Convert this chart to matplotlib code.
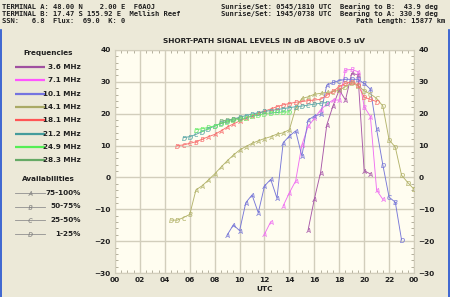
import numpy as np
import matplotlib
matplotlib.use("Agg")
import matplotlib.pyplot as plt

nan = np.nan

# ---- data (UTC hour, dB above 0.5 uV, availability letter per point) ----
f36_utc = [15.5, 16.0, 16.5, 17.0, 17.5, 18.0, 18.5, 19.0, 19.5, 20.0, 20.5]
f36_db = [-16.5, -6.8, 1.5, 16.5, 22.5, 27.5, 24.3, 32.7, 32.2, 2.1, 1.1]
f36_av = "AAAAAAAAAAA"

f71_utc = [12.0, 12.5, 13.0, 13.5, 14.0, 14.5, 15.0, 15.5, 16.0, 16.5, 17.0,
           17.5, 18.0, 18.5, 19.0, 19.5, 20.0, 20.5, 21.0, 21.5]
f71_db = [-17.8, -13.9, nan, -8.9, -4.8, -1.1, 10.2, 16.0, 18.5, 21.2, 23.0,
          24.3, 24.3, 33.7, 33.9, 33.2, 22.2, 19.1, -4.0, -6.9]
f71_av = "AA AAAAAAAAAABBABAAA"

f101_utc = [9.0, 9.5, 10.0, 10.5, 11.0, 11.5, 12.0, 12.5, 13.0, 13.5, 14.0,
            14.5, 15.0, 15.5, 16.0, 16.5, 17.0, 17.5, 18.0, 18.5, 19.0, 19.5,
            20.0, 20.5, 21.0, 21.5, 22.0, 22.5, 23.0]
f101_db = [-18.1, -14.9, -16.7, -7.9, -5.5, -11.1, -2.7, -0.6, -6.5, 10.9, 13.0,
           14.6, 6.7, 18.0, 19.3, 19.8, 29.0, 29.8, 30.4, 30.8, 30.8, 30.8,
           29.5, 27.7, 15.1, 3.9, -6.2, -7.8, -19.6]
f101_av = "AAAAAAAAAAAAAAAAA" + "BCDDDBAADCBD"

f141_utc = [4.5, 5.0, 5.5, 6.0, 6.5, 7.0, 7.5, 8.0, 8.5, 9.0, 9.5, 10.0, 10.5,
            11.0, 11.5, 12.0, 12.5, 13.0, 13.5, 14.0, 14.5, 15.0, 15.5, 16.0,
            16.5, 17.0, 17.5, 18.0, 18.5, 19.0, 19.5, 20.0, 20.5, 21.0, 21.5,
            22.0, 22.5, 23.0, 23.5, 24.0]
f141_db = [-13.4, -13.4, -12.6, -11.6, -3.9, -2.6, -0.8, 1.1, 3.2, 5.2, 7.0,
           8.6, 9.7, 10.7, 11.5, 12.2, 12.8, 13.6, 14.0, 15.0, 21.7, 24.8, 25.3,
           26.1, 26.4, 26.7, 26.9, 27.4, 28.5, 29.5, 28.8, 27.2, 26.2, 24.8,
           22.4, 11.8, 9.5, 0.7, -1.6, -3.7]
f141_av = "DDCB" + "AAAAAAAAAAAAAAAAAAAAAA" + "CDDDDD" + "CC" + "DDDDDD"

f181_utc = [5.0, 5.5, 6.0, 6.5, 7.0, 7.5, 8.0, 8.5, 9.0, 9.5, 10.0, 10.5, 11.0,
            11.5, 12.0, 12.5, 13.0, 13.5, 14.0, 14.5, 15.0, 15.5, 16.0, 16.5,
            17.0, 17.5, 18.0, 18.5, 19.0, 19.5, 20.0, 20.5, 21.0]
f181_db = [10.0, 10.2, 10.7, 11.2, 12.0, 12.8, 13.5, 14.6, 15.8, 16.8, 17.7,
           18.6, 19.4, 20.1, 20.8, 21.5, 22.2, 22.8, 23.2, 23.6, 23.8, 24.1,
           24.3, 24.5, 25.8, 27.0, 28.5, 29.5, 30.0, 29.0, 25.2, 24.5, 23.8]
f181_av = "DCCBB" + "AAAAAAAAAAA" + "DDDDCDCCD" + "DDDDDDDD"

f212_utc = [5.5, 6.0, 6.5, 7.0, 7.5, 8.0, 8.5, 9.0, 9.5, 10.0, 10.5, 11.0,
            11.5, 12.0, 12.5, 13.0, 13.5, 14.0, 14.5, 15.0, 15.5, 16.0, 16.5,
            17.0]
f212_db = [12.5, 12.8, 13.5, 14.4, 15.3, 16.1, 17.0, 17.7, 18.3, 18.9, 19.4,
           19.9, 20.3, 20.7, 21.0, 21.3, 21.6, 21.9, 22.2, 22.4, 22.7, 23.0,
           23.3, 23.5]
f212_av = "DDCD" + "DDDDDDDDDDDDDDDD" + "CDCD"

f249_utc = [6.5, 7.0, 7.5, 8.0, 8.5, 9.0, 9.5, 10.0, 10.5, 11.0, 11.5, 12.0,
            12.5, 13.0, 13.5, 14.0]
f249_db = [15.0, 15.3, 15.7, 16.2, 16.9, 17.5, 17.9, 18.3, 18.7, 19.2, 19.6,
           20.0, 20.3, 20.4, 20.5, 20.6]
f249_av = "DDDDDDDDDDDDDDDD"

f283_utc = [8.5, 9.0, 9.5, 10.0]
f283_db = [17.7, 18.0, 18.3, 18.6]
f283_av = "DDDD"

freq_labels = ["3.6 MHz", "7.1 MHz", "10.1 MHz", "14.1 MHz",
               "18.1 MHz", "21.2 MHz", "24.9 MHz", "28.3 MHz"]
legend_colors = ["#A050A0", "#FF55FF", "#7474E0", "#AAAA66",
                 "#FF5555", "#449C9C", "#55EE55", "#66AA66"]
line_colors = ["#A858A8", "#F070F0", "#7878D8", "#B4B46C",
               "#F87070", "#5CA8A8", "#6CEC6C", "#78B478"]
avail_labels = ["75-100%", "50-75%", "25-50%", "1-25%"]
avail_letters = ["A", "B", "C", "D"]

xtick_labels = ["00", "02", "04", "06", "08", "10", "12",
                "14", "16", "18", "20", "22", "00"]

series = [
    (f36_utc, f36_db, f36_av),
    (f71_utc, f71_db, f71_av),
    (f101_utc, f101_db, f101_av),
    (f141_utc, f141_db, f141_av),
    (f181_utc, f181_db, f181_av),
    (f212_utc, f212_db, f212_av),
    (f249_utc, f249_db, f249_av),
    (f283_utc, f283_db, f283_av),
]

W, H = 450, 297
fig = plt.figure(figsize=(W / 100, H / 100), dpi=100, facecolor="#ECE9D8")

# background layer in pixel coordinates for header / legend panel
bg = fig.add_axes([0, 0, 1, 1])
bg.set_xlim(0, W)
bg.set_ylim(H, 0)
bg.axis("off")

mono = dict(family="DejaVu Sans Mono", fontsize=5.1, fontweight="bold",
            color="#202020", va="center")
bg.text(2, 7, "TERMINAL A: 48.00 N    2.00 E  F6AOJ", ha="left", **mono)
bg.text(2, 14, "TERMINAL B: 17.47 S 155.92 E  Mellish Reef", ha="left", **mono)
bg.text(2, 21, "SSN:   6.8  Flux:  69.0  K: 0", ha="left", **mono)
bg.text(221, 7, "Sunrise/Set: 0545/1810 UTC  Bearing to B:  43.9 deg", ha="left", **mono)
bg.text(221, 14, "Sunrise/Set: 1945/0738 UTC  Bearing to A: 330.9 deg", ha="left", **mono)
bg.text(445, 21, "Path Length: 15877 km", ha="right", **mono)

# window border
bg.plot([0.5, 0.5], [30, H], color="#2050D0", lw=1.2)
bg.plot([448.5, 448.5], [30, H], color="#2050D0", lw=1.2)

leg = dict(fontsize=5.2, fontweight="bold", color="#202020", va="center")
bg.text(48, 53, "Frequencies", ha="center", **leg)
for i, (lab, col) in enumerate(zip(freq_labels, legend_colors)):
    y = 67 + i * 13.3
    bg.plot([15, 45], [y, y], color=col, lw=1.6, solid_capstyle="butt")
    bg.text(81, y, lab, ha="right", **leg)

bg.text(48, 179, "Availabilities", ha="center", **leg)
for i, (lab, ch) in enumerate(zip(avail_labels, avail_letters)):
    y = 193 + i * 13.5
    bg.plot([15, 45], [y, y], color="#909090", lw=0.6)
    bg.plot([30], [y], marker=f"${ch}$", ms=3.2, mew=0.1, color="#808080",
            ls="none")
    bg.text(81, y, lab, ha="right", **leg)

# main plot
ax = fig.add_axes([115 / W, 24 / H, 299 / W, 223 / H], facecolor="#FFFDF0")
for (utc, db, av), col in zip(series, line_colors):
    utc = np.array(utc)
    db = np.array(db)
    ax.plot(utc, db, color=col, lw=0.65, zorder=3)
    for ch in "ABCD":
        m = np.array([c == ch for c in av])
        if m.any():
            ax.plot(utc[m], db[m], ls="none", marker=f"${ch}$", ms=3.4,
                    mew=0.1, color=col, zorder=4)

ax.set_xlim(0, 24)
ax.set_ylim(-30, 40)
ax.set_xticks(np.arange(0, 25, 2))
ax.set_xticklabels(xtick_labels)
ax.set_yticks(np.arange(-30, 41, 10))
ax.set_xticks(np.arange(0, 24.1, 0.5), minor=True)
ax.set_yticks(np.arange(-30, 41, 2), minor=True)
ax.grid(True, which="major", color="#D2CEBC", lw=1.0, zorder=0)
ax.tick_params(which="both", direction="in", top=True, right=True,
               labelright=True, labelleft=True, colors="#A8A490",
               labelcolor="#202020", labelsize=5.3)
ax.tick_params(which="major", length=0, pad=3)
ax.tick_params(which="minor", length=2.5, width=0.6)
for lab in ax.get_xticklabels() + ax.get_yticklabels():
    lab.set_fontweight("bold")
for s in ax.spines.values():
    s.set_color("#D2CEBC")

ax.set_title("SHORT-PATH SIGNAL LEVELS IN dB ABOVE 0.5 uV", fontsize=5.3,
             fontweight="bold", color="#202020", pad=5)
ax.set_xlabel("UTC", fontsize=5.3, fontweight="bold", color="#202020", labelpad=2)

fig.savefig("out.png", dpi=100, facecolor=fig.get_facecolor())
